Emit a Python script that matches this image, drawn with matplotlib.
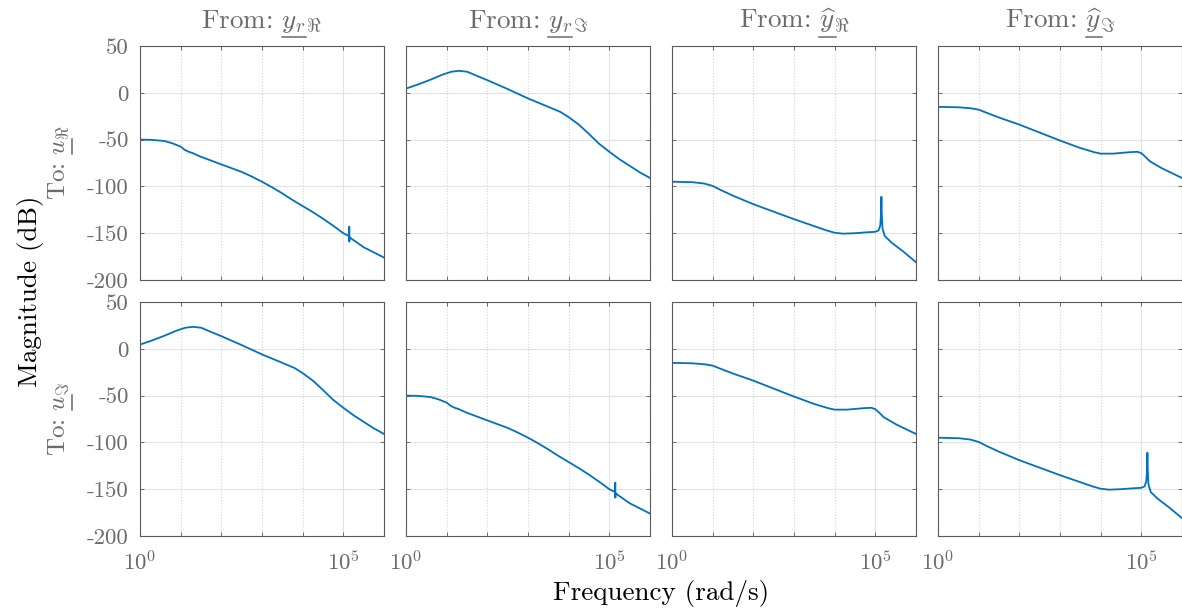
import numpy as np
import matplotlib
matplotlib.use("Agg")
import matplotlib.pyplot as plt
from matplotlib.lines import Line2D
from matplotlib.transforms import IdentityTransform

plt.rcParams['font.family'] = 'cmr10'
plt.rcParams['mathtext.fontset'] = 'cm'
plt.rcParams['axes.unicode_minus'] = False
plt.rcParams['axes.formatter.use_mathtext'] = True

# ---- data (rad/s, dB) ----
w_a = [1, 2, 4, 6.3, 10, 12.6, 15.8, 20, 30, 100, 316, 562, 1000, 1780,
       3160, 5620, 10000, 17800, 31600, 56200, 100000, 130000, 138000,
       140000, 140500, 142000, 160000, 316000, 1000000]
mag_a = [-50, -50.3, -51.5, -54, -57.5, -61, -63, -64.5, -68, -76.5, -84.5,
         -89.5, -95, -101, -107.5, -114.5, -121, -127.5, -134.5, -142, -150,
         -152.5, -153, -143, -159, -154, -156, -165, -176]

w_b = [1, 2, 4, 8, 13, 20, 32, 56, 100, 316, 1000, 3160, 6300, 10000, 17800,
       31600, 56200, 100000, 178000, 316000, 562000, 1000000]
mag_b = [4.5, 9, 14, 19.5, 22.5, 23.5, 22.5, 18, 13.5, 4, -6, -15, -20.5, -26,
         -34, -44, -54.5, -63, -71, -78, -85, -91]

w_c = [1, 3.2, 6.3, 10, 16, 32, 100, 316, 1000, 3160, 6300, 10000, 16000,
       31600, 63000, 100000, 120000, 132000, 138000, 141000, 144000, 150000,
       170000, 250000, 500000, 1000000]
mag_c = [-95, -95.5, -97, -99.5, -104, -110, -119, -127, -135, -142.5, -147,
         -149.5, -150.5, -150, -149, -148.5, -147, -142, -130, -111, -130,
         -145, -153, -160, -170, -181]

w_d = [1, 3.2, 6.3, 10, 16, 32, 100, 316, 1000, 3160, 7000, 10000, 20000,
       50000, 80000, 100000, 130000, 160000, 316000, 1000000]
mag_d = [-15, -15.5, -16.5, -18, -21.5, -26.5, -34, -42.5, -51, -59, -63.5,
         -65, -65, -63.5, -63, -64.5, -69, -73, -80.5, -91]

# (prefix with underlined part, underlined part, full label)
col_titles = [
    (r"From: $y_r$", r"$y_r$", r"From: ${y_r}_{\Re}$"),
    (r"From: $y_r$", r"$y_r$", r"From: ${y_r}_{\Im}$"),
    (r"From: $\widehat{y}$", r"$\widehat{y}$", r"From: $\widehat{y}_{\Re}$"),
    (r"From: $\widehat{y}$", r"$\widehat{y}$", r"From: $\widehat{y}_{\Im}$"),
]
row_labels = [
    (r"To: $u$", r"$u$", r"To: $u_{\Re}$"),
    (r"To: $u$", r"$u$", r"To: $u_{\Im}$"),
]
curves = [[(w_a, mag_a), (w_b, mag_b), (w_c, mag_c), (w_d, mag_d)],
          [(w_b, mag_b), (w_a, mag_a), (w_d, mag_d), (w_c, mag_c)]]

yticks = [50, 0, -50, -100, -150, -200]
ytick_labels = ["50", "0", "-50", "-100", "-150", "-200"]

W, H = 1182, 611
fig = plt.figure(figsize=(W / 100, H / 100), dpi=100)

lefts = [140, 406, 672, 938]
aw = 244
tops = [46, 302]
ah = 234
gray = '#6b6b6b'
fs_tick = 16.5
fs_lab = 19.5

axes = []
for r in range(2):
    for c in range(4):
        ax = fig.add_axes([lefts[c] / W, 1 - (tops[r] + ah) / H, aw / W, ah / H])
        w, m = curves[r][c]
        ax.semilogx(w, m, color='#0072BD', lw=1.3)
        ax.set_xlim(1, 1e6)
        ax.set_ylim(-200, 50)
        ax.set_xticks([1, 1e5])
        ax.set_xticks([10, 100, 1e3, 1e4, 1e6], minor=True)
        ax.set_xticklabels([r"$10^0$", r"$10^5$"] if r == 1 else [])
        ax.set_xticklabels([], minor=True)
        ax.set_yticks(yticks)
        ax.set_yticklabels(ytick_labels if c == 0 else [])
        ax.grid(True, which='major', color='#e3e3e3', lw=0.8, ls='-')
        ax.grid(True, which='minor', axis='x', color='#d4d4d4', lw=0.8, ls=':')
        ax.set_axisbelow(True)
        ax.tick_params(which='both', direction='in', top=True, right=True,
                       length=3, width=0.6, color='#555555',
                       labelcolor=gray, labelsize=fs_tick)
        ax.tick_params(axis='x', pad=10)
        ax.tick_params(axis='y', pad=8)
        for s in ax.spines.values():
            s.set_color('#5a5a5a')
            s.set_linewidth(0.8)
        axes.append(ax)

fig.canvas.draw()
renderer = fig.canvas.get_renderer()


def text_size(s, fs):
    t = fig.text(0, 0, s, fontsize=fs, transform=IdentityTransform(),
                 va='baseline')
    bb = t.get_window_extent(renderer)
    t.remove()
    return bb.width, bb.y0


def label_with_underline(xpx, ypx, parts, fs, rot):
    pre, base, full = parts
    fig.text(xpx / W, ypx / H, full, fontsize=fs, color=gray, ha='center',
             va='baseline', rotation=rot, rotation_mode='anchor')
    wfull, _ = text_size(full, fs)
    wpre, _ = text_size(pre, fs)
    wbase, d = text_size(base, fs)
    a = -wfull / 2 + wpre - wbase
    b = -wfull / 2 + wpre
    off = d - 2
    if rot == 0:
        xs, ys = [xpx + a, xpx + b], [ypx + off, ypx + off]
    else:
        xs, ys = [xpx - off, xpx - off], [ypx + a, ypx + b]
    fig.add_artist(Line2D([x / W for x in xs], [y / H for y in ys],
                          transform=fig.transFigure, color=gray, lw=1.1))


for c in range(4):
    label_with_underline(lefts[c] + aw / 2, H - 28, col_titles[c], fs_lab, 0)
for r in range(2):
    label_with_underline(65, H - (tops[r] + ah / 2), row_labels[r], 18, 90)

fig.text(37 / W, 1 - 291 / H, "Magnitude (dB)", fontsize=19.5, rotation=90,
         rotation_mode='anchor', ha='center', va='baseline')
fig.text(661 / W, 11 / H, "Frequency (rad/s)", fontsize=19.5, ha='center',
         va='baseline')

fig.savefig("out.png", dpi=100)
